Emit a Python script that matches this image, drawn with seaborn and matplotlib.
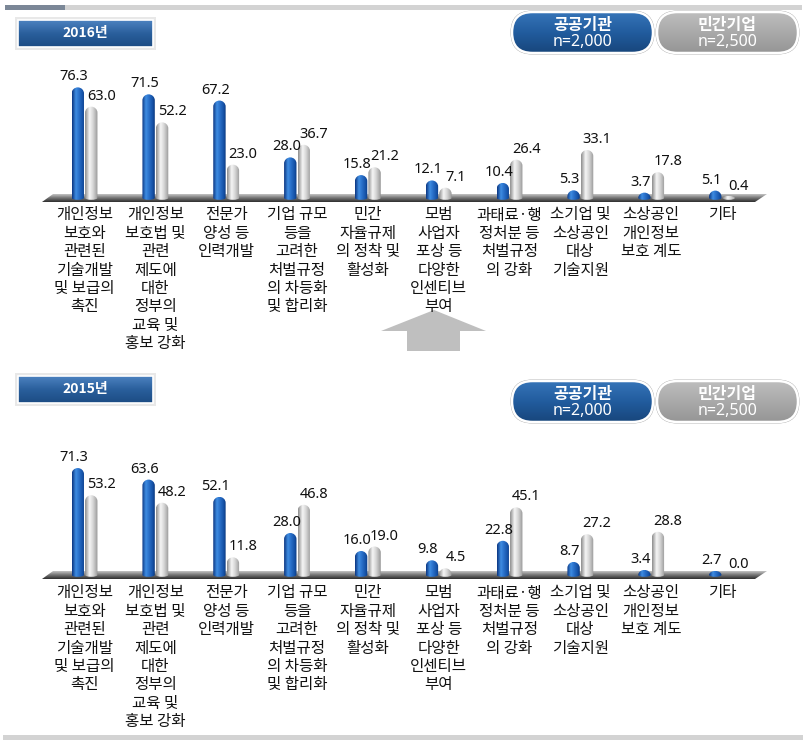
import numpy as np
import pandas as pd
import matplotlib
matplotlib.use('Agg')
import matplotlib.pyplot as plt
import seaborn as sns
from matplotlib.patches import FancyBboxPatch, Polygon, PathPatch, Rectangle
from matplotlib.path import Path
from matplotlib.colors import LinearSegmentedColormap
from matplotlib.transforms import blended_transform_factory

# ---------------- data ----------------
categories = [
    "개인정보\n보호와\n관련된\n기술개발\n및 보급의\n촉진",
    "개인정보\n보호법 및\n관련\n제도에\n대한\n정부의\n교육 및\n홍보 강화",
    "전문가\n양성 등\n인력개발",
    "기업 규모\n등을\n고려한\n처벌규정\n의 차등화\n및 합리화",
    "민간\n자율규제\n의 정착 및\n활성화",
    "모범\n사업자\n포상 등\n다양한\n인센티브\n부여",
    "과태료·행\n정처분 등\n처벌규정\n의 강화",
    "소기업 및\n소상공인\n대상\n기술지원",
    "소상공인\n개인정보\n보호 계도",
    "기타",
]
groups = ["공공기관", "민간기업"]
group_n = ["n=2,000", "n=2,500"]
years = ["2016년", "2015년"]

public_2016 = [76.3, 71.5, 67.2, 28.0, 15.8, 12.1, 10.4, 5.3, 3.7, 5.1]
private_2016 = [63.0, 52.2, 23.0, 36.7, 21.2, 7.1, 26.4, 33.1, 17.8, 0.4]
public_2015 = [71.3, 63.6, 52.1, 28.0, 16.0, 9.8, 22.8, 8.7, 3.4, 2.7]
private_2015 = [53.2, 48.2, 11.8, 46.8, 19.0, 4.5, 45.1, 27.2, 28.8, 0.0]

# ---------------- style ----------------
sns.set_theme(style="white")
plt.rcParams["font.family"] = ["Noto Sans CJK KR", "DejaVu Sans"]

W, H = 806, 744
fig = plt.figure(figsize=(W / 100, H / 100), dpi=100)
fig.patch.set_facecolor("white")

bg = fig.add_axes([0, 0, 1, 1], zorder=0)
bg.axis("off")

BLUE = "#1F5FB4"
GREY = "#C8C8C8"
blue_cmap = LinearSegmentedColormap.from_list(
    "b", [(0, "#0A3480"), (0.3, "#3F8DE2"), (0.5, "#2C74CE"), (0.85, "#144FA3"), (1, "#0B377C")])
grey_cmap = LinearSegmentedColormap.from_list(
    "g", [(0, "#8C8C8C"), (0.35, "#F5F5F5"), (0.6, "#DADADA"), (0.9, "#A8A8A8"), (1, "#8F8F8F")])
floor_cmap = LinearSegmentedColormap.from_list(
    "f", [(0, "#C4C4C4"), (0.45, "#7A7A7A"), (1, "#2E2E2E")])
hdr_cmap = LinearSegmentedColormap.from_list("h", ["#4C82C0", "#2A5F9C", "#1C4C84"])
pill_blue = LinearSegmentedColormap.from_list("pb", ["#3674B8", "#215C9E", "#18467C"])
pill_grey = LinearSegmentedColormap.from_list("pg", ["#BEBEBE", "#A9A9A9", "#969696"])

hgrad = np.linspace(0, 1, 64)[None, :]
vgrad = np.linspace(0, 1, 64)[:, None]


def grad_fill(ax, patch, cmap, extent, grad, z):
    ax.add_patch(patch)
    im = ax.imshow(grad, extent=extent, origin="lower", aspect="auto", cmap=cmap,
                   interpolation="bilinear", zorder=z)
    im.set_clip_path(patch)
    return im


def bar_path(x0, w, h, r, b):
    x1 = x0 + w
    xc = x0 + w / 2
    k = 0.5523
    hw = w / 2
    verts = [
        (x0, 0), (x0, h - r),
        (x0, h - r + k * r), (xc - k * hw, h), (xc, h),
        (xc + k * hw, h), (x1, h - r + k * r), (x1, h - r),
        (x1, 0),
        (x1, -k * b), (xc + k * hw, -b), (xc, -b),
        (xc - k * hw, -b), (x0, -k * b), (x0, 0),
        (x0, 0),
    ]
    codes = [Path.MOVETO, Path.LINETO,
             Path.CURVE4, Path.CURVE4, Path.CURVE4,
             Path.CURVE4, Path.CURVE4, Path.CURVE4,
             Path.LINETO,
             Path.CURVE4, Path.CURVE4, Path.CURVE4,
             Path.CURVE4, Path.CURVE4, Path.CURVE4,
             Path.CLOSEPOLY]
    return Path(verts, codes)


def draw_panel(public, private, year, base_px, scale, top_px, bot_px, label_top_px, hdr_y, pill_y):
    # floor (decorative plate under bars)
    floor = Polygon([(42, base_px + 4), (53, base_px - 4), (767, base_px - 4), (755, base_px + 4)],
                    closed=True, facecolor="none", edgecolor="none")
    grad_fill(bg, floor, floor_cmap, (42, 767, base_px - 4, base_px + 4), vgrad, 1)

    ax = fig.add_axes([49.1 / W, 1 - bot_px / H, 708.3 / W, (bot_px - top_px) / H], zorder=2)
    ax.set_facecolor("none")
    df = pd.DataFrame({
        "category": categories * 2,
        "group": [groups[0]] * len(categories) + [groups[1]] * len(categories),
        "value": list(public) + list(private),
    })
    sns.barplot(data=df, x="category", y="value", hue="group", order=categories,
                hue_order=groups, palette=[BLUE, GREY], width=0.38, gap=0.08,
                errorbar=None, legend=False, ax=ax)

    r = 6.0 / scale
    b = 1.8 / scale
    for cont, cmap, dx in zip(ax.containers, [blue_cmap, grey_cmap], [-4, 10]):
        for bar in cont:
            x0, w, h = bar.get_x(), bar.get_width(), bar.get_height()
            bar.set_visible(False)
            xc = x0 + w / 2
            ax.annotate(f"{h:.1f}", xy=(xc, h), xytext=(dx, 7), textcoords="offset pixels",
                        ha="center", va="baseline", fontsize=10.5, color="#111111",
                        family=["Noto Sans", "DejaVu Sans"], zorder=6)
            if h <= 0.05:
                continue
            hv = max(h, 2.0 / scale)
            rr = min(r, hv)
            pp = PathPatch(bar_path(x0, w, hv, rr, b), facecolor="none", edgecolor="none")
            pp.set_transform(ax.transData)
            grad_fill(ax, pp, cmap, (x0, x0 + w, -b, hv), hgrad, 3)

    ax.set_xlim(-0.5, 9.5)
    ax.set_ylim((base_px - bot_px) / scale, (base_px - top_px) / scale)
    ax.axis("off")

    # category labels
    trans = blended_transform_factory(ax.transData, bg.transData)
    for i, cat in enumerate(categories):
        for k, line in enumerate(cat.split("\n")):
            ax.text(i, label_top_px + k * 18.4, line, transform=trans, ha="center", va="center",
                    fontsize=11.2, color="#111111", clip_on=False)

    # year header
    bg.add_patch(Rectangle((15, hdr_y - 3), 141, 33, facecolor="#DADADA", edgecolor="none",
                           alpha=0.6, zorder=2))
    hdr = Rectangle((18, hdr_y), 135, 27, facecolor="none", edgecolor="none")
    grad_fill(bg, hdr, hdr_cmap, (18, 153, hdr_y, hdr_y + 27), vgrad, 3)
    bg.add_patch(Rectangle((18, hdr_y), 135, 27, facecolor="none", edgecolor="white",
                           linewidth=1.2, zorder=4))
    bg.text(85.5, hdr_y + 13.5, year, ha="center", va="center", color="white",
            fontsize=10, fontweight="bold", zorder=5)

    # legend pills
    for j, (x0, cmap) in enumerate(zip([512, 657], [pill_blue, pill_grey])):
        outer = FancyBboxPatch((x0 - 1.5, pill_y - 1.5), 144, 44,
                               boxstyle="round,pad=0,rounding_size=22",
                               facecolor="#A0A0A0", edgecolor="none", zorder=2)
        bg.add_patch(outer)
        pill = FancyBboxPatch((x0, pill_y), 141, 41, boxstyle="round,pad=0,rounding_size=20.5",
                              facecolor="none", edgecolor="none")
        grad_fill(bg, pill, cmap, (x0, x0 + 141, pill_y, pill_y + 41), vgrad, 3)
        bg.add_patch(FancyBboxPatch((x0, pill_y), 141, 41,
                                    boxstyle="round,pad=0,rounding_size=20.5",
                                    facecolor="none", edgecolor="white", linewidth=1.8, zorder=4))
        bg.text(x0 + 70.5, pill_y + 13, groups[j], ha="center", va="center", color="white",
                fontsize=11.5, fontweight="bold", zorder=5)
        bg.text(x0 + 70.5, pill_y + 30, group_n[j], ha="center", va="center", color="white",
                fontsize=11.5, fontweight="bold", zorder=5,
                family=["Noto Sans", "DejaVu Sans"])


draw_panel(public_2016, private_2016, years[0], base_px=198, scale=1.45, top_px=60, bot_px=205,
           label_top_px=215, hdr_y=20, pill_y=12)
draw_panel(public_2015, private_2015, years[1], base_px=575, scale=1.5, top_px=430, bot_px=582,
           label_top_px=593, hdr_y=376, pill_y=381)

# decorative bars and arrow
bg.add_patch(Rectangle((5, 5), 60, 5, facecolor="#7B8797", edgecolor="none", zorder=2))
bg.add_patch(Rectangle((65, 5), 737, 5, facecolor="#D3D3D3", edgecolor="none", zorder=2))
bg.add_patch(Rectangle((3, 735), 800, 5, facecolor="#D3D3D3", edgecolor="none", zorder=2))
bg.add_patch(Polygon([(434, 310), (486, 331), (460, 331), (460, 351), (407, 351), (407, 331), (381, 331)],
                     closed=True, facecolor="#BFBFBF", edgecolor="none", zorder=2))

bg.set_xlim(0, W)
bg.set_ylim(H, 0)

fig.savefig("out.png", dpi=100, facecolor="white")
